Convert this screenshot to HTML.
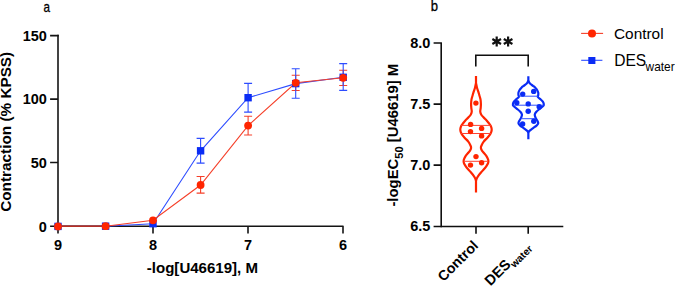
<!DOCTYPE html>
<html><head><meta charset="utf-8">
<style>
html,body{margin:0;padding:0;background:#fff;}
body{width:675px;height:286px;overflow:hidden;}
svg{display:block;}
text{font-family:"Liberation Sans",sans-serif;}
.b{font-weight:bold;}
</style></head>
<body>
<svg width="675" height="286" viewBox="0 0 675 286">
<rect width="675" height="286" fill="#fff"/>
<!-- panel labels -->
<text x="46.8" y="12.2" font-size="14.5" text-anchor="middle" textLength="6.5" lengthAdjust="spacingAndGlyphs" fill="#000" stroke="#000" stroke-width="0.3">a</text>
<text x="434.3" y="11.4" font-size="14.5" text-anchor="middle" textLength="7.3" lengthAdjust="spacingAndGlyphs" fill="#000" stroke="#000" stroke-width="0.3">b</text>

<!-- ===== LEFT CHART ===== -->
<g stroke="#141414" stroke-width="1.6" fill="none" stroke-linecap="butt">
  <path d="M58 34.85 V227"/>
  <path d="M50.1 35.6 H58.75 M50.1 99.1 H58 M50.1 162.5 H58 M50.1 226.25 H58"/>
  <path d="M57.25 226.25 H343.5"/>
  <path d="M58 226.25 V233.6 M153 226.25 V233.6 M248 226.25 V233.6 M343 226.25 V233.6"/>
</g>
<g class="b" font-size="14.5" fill="#000" text-anchor="end">
  <text x="46.9" y="40.5">150</text>
  <text x="46.9" y="104.2">100</text>
  <text x="46.9" y="167.9">50</text>
  <text x="46.9" y="231.5">0</text>
</g>
<g class="b" font-size="14.5" fill="#000" text-anchor="middle">
  <text x="58" y="249.6">9</text>
  <text x="153" y="249.6">8</text>
  <text x="248" y="249.6">7</text>
  <text x="343" y="249.6">6</text>
</g>
<text class="b" x="202.4" y="273.3" font-size="14.6" text-anchor="middle" textLength="111.2" lengthAdjust="spacingAndGlyphs" fill="#000">-log[U46619], M</text>
<text class="b" transform="translate(10.9,131.8) rotate(-90)" x="0" y="0" font-size="14" text-anchor="middle" textLength="160" lengthAdjust="spacingAndGlyphs" fill="#000">Contraction (% KPSS)</text>

<!-- error bars -->
<g stroke="#f5402a" stroke-width="1.1" fill="none">
  <path d="M200.6 176.5 V193.1 M196.6 176.5 H204.6 M196.6 193.1 H204.6"/>
  <path d="M248.1 116.3 V135 M244.1 116.3 H252.1 M244.1 135 H252.1"/>
  <path d="M295.7 75.2 V90.5 M291.7 75.2 H299.7 M291.7 90.5 H299.7"/>
  <path d="M343.2 70.3 V85.5 M339.2 70.3 H347.2 M339.2 85.5 H347.2"/>
</g>
<g stroke="#2d4cff" stroke-width="1.1" fill="none">
  <path d="M200.6 138.4 V163.1 M196.6 138.4 H204.6 M196.6 163.1 H204.6"/>
  <path d="M248.1 83.4 V112.1 M244.1 83.4 H252.1 M244.1 112.1 H252.1"/>
  <path d="M295.7 68.8 V98.2 M291.7 68.8 H299.7 M291.7 98.2 H299.7"/>
  <path d="M343.2 63.6 V90.4 M339.2 63.6 H347.2 M339.2 90.4 H347.2"/>
</g>
<!-- lines -->
<polyline points="58,226.4 105.6,226.2 153,223.7 200.6,150.8 248.1,97.7 295.7,83.6 343.2,77.3" stroke="#2d4cff" stroke-width="1.1" fill="none"/>
<polyline points="58,226.4 105.6,226.2 153,220.3 200.6,185 248.1,125.6 295.7,82.8 343.2,77.8" stroke="#f5402a" stroke-width="1.1" fill="none"/>
<path d="M58 226.1 H105.5" stroke="#a82a1c" stroke-width="1.3"/>
<!-- markers -->
<g fill="#0a2cf5">
  <rect x="54.3" y="222.7" width="7.4" height="7.4"/>
  <rect x="101.9" y="222.5" width="7.4" height="7.4"/>
  <rect x="149.3" y="220.0" width="7.4" height="7.4"/>
  <rect x="196.9" y="147.1" width="7.4" height="7.4"/>
  <rect x="244.4" y="94.0" width="7.4" height="7.4"/>
  <rect x="292.0" y="79.9" width="7.4" height="7.4"/>
  <rect x="339.5" y="73.6" width="7.4" height="7.4"/>
</g>
<g fill="#ff2500">
  <circle cx="58" cy="226.4" r="3.9"/>
  <circle cx="105.6" cy="226.2" r="3.9"/>
  <circle cx="153" cy="220.3" r="3.9"/>
  <circle cx="200.6" cy="185" r="3.9"/>
  <circle cx="248.1" cy="125.6" r="3.9"/>
  <circle cx="295.7" cy="82.8" r="3.9"/>
  <circle cx="343.2" cy="77.8" r="3.9"/>
</g>

<!-- ===== RIGHT CHART ===== -->
<g stroke="#0f0f0f" stroke-width="1.6" fill="none">
  <path d="M441.2 43 V227.2"/>
  <path d="M433.6 43 H441.95 M433.6 104.1 H441.2 M433.6 165.1 H441.2"/>
  <path d="M433.6 226.45 H563.3"/>
  <path d="M476 226.45 V233.7 M528.2 226.45 V233.7"/>
  <path d="M475.8 66.6 V55.2 H528.2 V66.6"/>
</g>
<g class="b" font-size="14.5" fill="#000" text-anchor="end">
  <text x="430.3" y="47.8">8.0</text>
  <text x="430.3" y="108.8">7.5</text>
  <text x="430.3" y="169.9">7.0</text>
  <text x="430.3" y="231">6.5</text>
</g>
<g stroke="#111" stroke-width="2.2" fill="none">
  <path d="M496.7 36.50 V46.50 M492.37 39.00 L501.03 44.00 M492.37 44.00 L501.03 39.00"/>
  <path d="M508.1 36.50 V46.50 M503.77 39.00 L512.43 44.00 M503.77 44.00 L512.43 39.00"/>
</g>
<text class="b" transform="translate(397.8,135.2) rotate(-90)" font-size="14" text-anchor="middle" textLength="142.8" lengthAdjust="spacingAndGlyphs" fill="#000">-logEC<tspan font-size="10.4" dy="5.5">50</tspan><tspan dy="-5.5"> [U46619] M</tspan></text>
<text class="b" transform="translate(479.1,246.5) rotate(-45)" font-size="14.2" text-anchor="end" fill="#000">Control</text>
<text class="b" transform="translate(530.4,246.6) rotate(-45)" font-size="14.5" text-anchor="end" fill="#000">DES<tspan font-size="10.2" dy="4">water</tspan></text>

<!-- violins -->
<g fill="none" stroke="#ff2500" stroke-width="2.2">
  <path d="M476.00 75.90 L476.00 83.00 C476.17 83.78 476.62 86.27 477.00 87.70 C477.38 89.13 477.90 90.30 478.30 91.60 C478.70 92.90 479.03 94.20 479.40 95.50 C479.77 96.80 480.25 98.00 480.50 99.40 C480.75 100.80 480.87 102.50 480.90 103.90 C480.93 105.30 480.81 106.50 480.70 107.80 C480.59 109.10 480.15 110.55 480.25 111.70 C480.35 112.85 480.73 113.72 481.30 114.70 C481.88 115.68 482.82 116.63 483.70 117.60 C484.58 118.57 485.70 119.52 486.60 120.50 C487.50 121.48 488.38 122.55 489.10 123.50 C489.82 124.45 490.47 125.13 490.90 126.20 C491.33 127.27 491.77 128.63 491.70 129.90 C491.63 131.17 491.22 132.50 490.50 133.80 C489.78 135.10 488.53 136.40 487.40 137.70 C486.27 139.00 484.68 140.30 483.70 141.60 C482.72 142.90 481.97 144.47 481.50 145.50 C481.03 146.53 480.83 146.97 480.90 147.80 C480.97 148.63 481.47 149.72 481.90 150.50 C482.33 151.28 482.77 151.62 483.50 152.50 C484.23 153.38 485.52 154.60 486.30 155.80 C487.08 157.00 487.88 158.55 488.20 159.70 C488.52 160.85 488.45 161.72 488.20 162.70 C487.95 163.68 487.23 164.72 486.70 165.60 C486.17 166.48 485.87 166.95 485.00 168.00 C484.13 169.05 482.62 170.60 481.50 171.90 C480.38 173.20 479.10 174.68 478.30 175.80 C477.50 176.92 477.08 177.73 476.70 178.60 C476.32 179.47 476.12 180.60 476.00 181.00 L476.00 192.60 M476.00 181.00 C475.88 180.60 475.68 179.47 475.30 178.60 C474.92 177.73 474.50 176.92 473.70 175.80 C472.90 174.68 471.62 173.20 470.50 171.90 C469.38 170.60 467.87 169.05 467.00 168.00 C466.13 166.95 465.83 166.48 465.30 165.60 C464.77 164.72 464.05 163.68 463.80 162.70 C463.55 161.72 463.48 160.85 463.80 159.70 C464.12 158.55 464.92 157.00 465.70 155.80 C466.48 154.60 467.77 153.38 468.50 152.50 C469.23 151.62 469.67 151.28 470.10 150.50 C470.53 149.72 471.03 148.63 471.10 147.80 C471.17 146.97 470.97 146.53 470.50 145.50 C470.03 144.47 469.28 142.90 468.30 141.60 C467.32 140.30 465.73 139.00 464.60 137.70 C463.47 136.40 462.22 135.10 461.50 133.80 C460.78 132.50 460.37 131.17 460.30 129.90 C460.23 128.63 460.67 127.27 461.10 126.20 C461.53 125.13 462.18 124.45 462.90 123.50 C463.62 122.55 464.50 121.48 465.40 120.50 C466.30 119.52 467.42 118.57 468.30 117.60 C469.18 116.63 470.12 115.68 470.70 114.70 C471.27 113.72 471.65 112.85 471.75 111.70 C471.85 110.55 471.41 109.10 471.30 107.80 C471.19 106.50 471.07 105.30 471.10 103.90 C471.13 102.50 471.25 100.80 471.50 99.40 C471.75 98.00 472.23 96.80 472.60 95.50 C472.97 94.20 473.30 92.90 473.70 91.60 C474.10 90.30 474.62 89.13 475.00 87.70 C475.38 86.27 475.83 83.78 476.00 83.00 L476.00 75.90"/>
</g>
<g stroke="#ff4030" stroke-width="1">
  <path d="M461 125.4 H491 M461 133.5 H491 M464.5 161.3 H487.5"/>
</g>
<g fill="#ff2500">
  <circle cx="475.9" cy="103.1" r="2.7"/>
  <circle cx="470.6" cy="124.4" r="2.7"/>
  <circle cx="481.6" cy="128.4" r="2.7"/>
  <circle cx="470.5" cy="131.6" r="2.7"/>
  <circle cx="481.6" cy="135.9" r="2.7"/>
  <circle cx="476" cy="156.6" r="2.7"/>
  <circle cx="481.6" cy="162.7" r="2.7"/>
  <circle cx="470.5" cy="165.1" r="2.7"/>
</g>
<g fill="none" stroke="#0a2cf5" stroke-width="2.2">
  <path d="M528.35 76.30 L528.35 79.80 C528.43 80.13 528.53 81.13 528.85 81.80 C529.17 82.47 529.57 83.13 530.25 83.80 C530.93 84.47 532.12 85.15 532.95 85.80 C533.78 86.45 534.53 86.97 535.25 87.70 C535.97 88.43 536.75 89.38 537.25 90.20 C537.75 91.02 538.08 91.78 538.25 92.60 C538.42 93.42 538.32 94.37 538.25 95.10 C538.18 95.83 537.43 96.27 537.85 97.00 C538.27 97.73 539.95 98.77 540.75 99.50 C541.55 100.23 542.15 100.67 542.65 101.40 C543.15 102.13 543.63 103.15 543.75 103.90 C543.87 104.65 544.02 105.08 543.35 105.90 C542.68 106.72 540.92 107.82 539.75 108.80 C538.58 109.78 537.18 110.82 536.35 111.80 C535.52 112.78 534.88 113.73 534.75 114.70 C534.62 115.67 535.13 116.62 535.55 117.60 C535.97 118.58 536.82 119.78 537.25 120.60 C537.68 121.42 538.02 121.97 538.15 122.50 C538.28 123.03 538.32 123.28 538.05 123.80 C537.78 124.32 537.37 124.88 536.55 125.60 C535.73 126.32 534.23 127.30 533.15 128.10 C532.07 128.90 530.77 129.78 530.05 130.40 C529.33 131.02 529.13 131.32 528.85 131.80 C528.57 132.28 528.43 133.05 528.35 133.30 L528.35 139.30 M528.35 133.30 C528.27 133.05 528.13 132.28 527.85 131.80 C527.57 131.32 527.37 131.02 526.65 130.40 C525.93 129.78 524.63 128.90 523.55 128.10 C522.47 127.30 520.97 126.32 520.15 125.60 C519.33 124.88 518.92 124.32 518.65 123.80 C518.38 123.28 518.42 123.03 518.55 122.50 C518.68 121.97 519.02 121.42 519.45 120.60 C519.88 119.78 520.73 118.58 521.15 117.60 C521.57 116.62 522.08 115.67 521.95 114.70 C521.82 113.73 521.18 112.78 520.35 111.80 C519.52 110.82 518.12 109.78 516.95 108.80 C515.78 107.82 514.02 106.72 513.35 105.90 C512.68 105.08 512.83 104.65 512.95 103.90 C513.07 103.15 513.55 102.13 514.05 101.40 C514.55 100.67 515.15 100.23 515.95 99.50 C516.75 98.77 518.43 97.73 518.85 97.00 C519.27 96.27 518.52 95.83 518.45 95.10 C518.38 94.37 518.28 93.42 518.45 92.60 C518.62 91.78 518.95 91.02 519.45 90.20 C519.95 89.38 520.73 88.43 521.45 87.70 C522.17 86.97 522.92 86.45 523.75 85.80 C524.58 85.15 525.77 84.47 526.45 83.80 C527.13 83.13 527.53 82.47 527.85 81.80 C528.17 81.13 528.27 80.13 528.35 79.80 L528.35 76.30"/>
</g>
<g stroke="#3050ff" stroke-width="1">
  <path d="M519 96.2 H538 M513.5 105.2 H543.5 M521.5 118.7 H535.5"/>
</g>
<g fill="#0a2cf5">
  <circle cx="533.7" cy="91.4" r="2.7"/>
  <circle cx="522.7" cy="94.1" r="2.7"/>
  <circle cx="516.8" cy="102.7" r="2.7"/>
  <circle cx="528.2" cy="103.9" r="2.7"/>
  <circle cx="539.2" cy="106.7" r="2.7"/>
  <circle cx="528.2" cy="111.3" r="2.7"/>
  <circle cx="533.8" cy="121.3" r="2.7"/>
  <circle cx="522.6" cy="124" r="2.7"/>
</g>

<!-- legend -->
<path d="M581.1 33.4 H603.1" stroke="#f5402a" stroke-width="1.1"/>
<circle cx="592" cy="33.4" r="4" fill="#ff2500"/>
<path d="M581.2 60.3 H602.4" stroke="#2d4cff" stroke-width="1.1"/>
<rect x="588.3" y="57" width="7.1" height="7" fill="#0a2cf5"/>
<text x="614" y="39.2" font-size="15.3" textLength="49.6" lengthAdjust="spacingAndGlyphs" fill="#000">Control</text>
<text x="614.2" y="65.8" font-size="15.6" fill="#000">DES<tspan x="645.6" font-size="11.9" dy="5.4">water</tspan></text>
</svg>
</body></html>
